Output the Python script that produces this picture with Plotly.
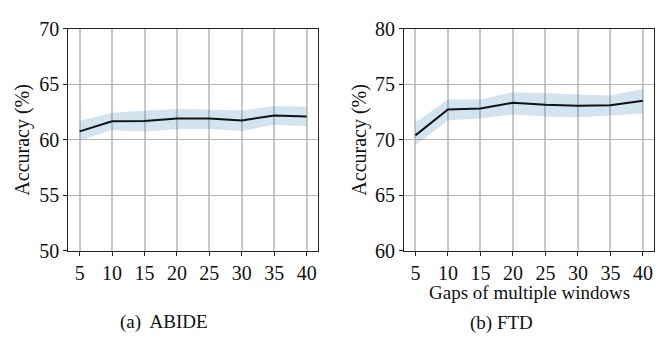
import plotly.graph_objects as go

gaps = [5, 10, 15, 20, 25, 30, 35, 40]
abide_mean = [60.75, 61.66, 61.69, 61.90, 61.90, 61.74, 62.18, 62.10]
abide_upper = [61.69, 62.43, 62.62, 62.77, 62.73, 62.62, 63.03, 62.98]
abide_lower = [59.95, 60.85, 60.73, 60.93, 60.98, 60.79, 61.35, 61.21]
ftd_mean = [70.39, 72.73, 72.81, 73.33, 73.15, 73.07, 73.10, 73.52]
ftd_upper = [71.52, 73.63, 73.63, 74.28, 74.22, 74.07, 73.99, 74.58]
ftd_lower = [69.49, 71.74, 71.94, 72.26, 72.09, 72.03, 72.17, 72.36]
y_ticks_a = [50, 55, 60, 65, 70]
y_ticks_b = [60, 65, 70, 75, 80]
captions = ["(a)  ABIDE", "(b) FTD"]
ylabel = "Accuracy (%)"
xlabel = "Gaps of multiple windows"

FONT = "Liberation Serif, Times New Roman, serif"
BAND = "rgba(31,119,180,0.2)"
W, H = 667, 343

fig = go.Figure()

def add_panel(mean, upper, lower, xa, ya):
    fig.add_trace(go.Scatter(x=gaps, y=upper, mode="lines", line=dict(width=0),
                             xaxis=xa, yaxis=ya, showlegend=False, hoverinfo="skip"))
    fig.add_trace(go.Scatter(x=gaps, y=lower, mode="lines", line=dict(width=0),
                             fill="tonexty", fillcolor=BAND,
                             xaxis=xa, yaxis=ya, showlegend=False, hoverinfo="skip"))
    fig.add_trace(go.Scatter(x=gaps, y=mean, mode="lines", line=dict(color="#111111", width=2),
                             xaxis=xa, yaxis=ya, showlegend=False))

add_panel(abide_mean, abide_upper, abide_lower, "x", "y")
add_panel(ftd_mean, ftd_upper, ftd_lower, "x2", "y2")

def px_x(p):
    return p / W

def px_y(p):
    return 1 - p / H

TICKFONT = dict(family=FONT, size=20, color="#111111")
xcommon = dict(range=[3.25, 41.75], tickmode="array", tickvals=gaps,
               showgrid=True, gridcolor="#c8c8c8", gridwidth=1.5,
               showline=True, linecolor="#222222", linewidth=1, mirror=True,
               ticks="outside", ticklen=4, tickcolor="#222222",
               tickfont=TICKFONT, zeroline=False)
ycommon = dict(showgrid=True, gridcolor="#b4b4b4", gridwidth=1,
               showline=True, linecolor="#222222", linewidth=1, mirror=True,
               ticks="outside", ticklen=4, tickcolor="#222222",
               tickfont=TICKFONT, zeroline=False,
               tickmode="array")

ydom = [px_y(256), px_y(19)]
fig.update_layout(
    width=W, height=H,
    margin=dict(l=0, r=0, t=0, b=0),
    paper_bgcolor="white", plot_bgcolor="white",
    font=dict(family=FONT, color="#111111"),
    xaxis=dict(domain=[px_x(68.3), px_x(318)], anchor="y", **xcommon),
    yaxis=dict(domain=ydom, anchor="x", range=[50, 70], tickvals=y_ticks_a, **ycommon),
    xaxis2=dict(domain=[px_x(404), px_x(654.3)], anchor="y2", **xcommon),
    yaxis2=dict(domain=ydom, anchor="x2", range=[60, 80], tickvals=y_ticks_b, **ycommon),
)

annos = [
    dict(text=ylabel, x=px_x(23), y=px_y(137.5), textangle=-90, size=20),
    dict(text=ylabel, x=px_x(360), y=px_y(137.5), textangle=-90, size=20),
    dict(text=xlabel, x=px_x(529), y=px_y(301), size=19),
    dict(text=captions[0], x=px_x(164), y=px_y(332), size=19),
    dict(text=captions[1], x=px_x(501), y=px_y(333), size=19),
]
for a in annos:
    size = a.pop("size")
    fig.add_annotation(xref="paper", yref="paper", showarrow=False,
                       xanchor="center", yanchor="middle",
                       font=dict(family=FONT, size=size, color="#111111"), **a)

fig.write_html("out.html")
